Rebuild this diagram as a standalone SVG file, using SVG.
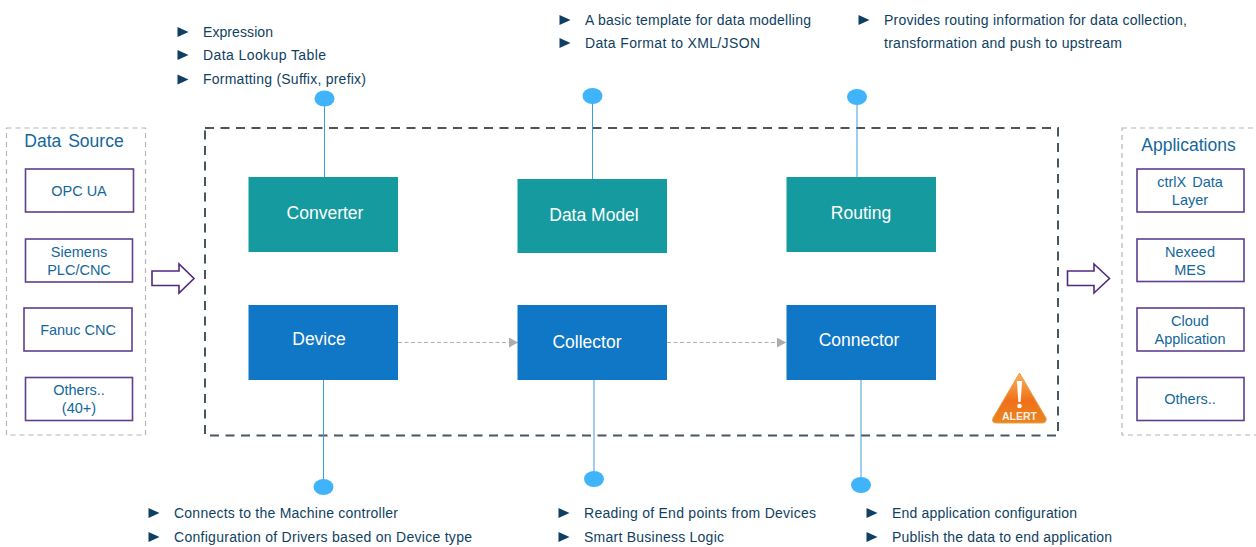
<svg xmlns="http://www.w3.org/2000/svg" width="1256" height="547" viewBox="0 0 1256 547">
<style>
text{font-family:"Liberation Sans",Arial,sans-serif}
.b{font-size:14px;fill:#0f3f62}
.bu{fill:#0f3f62}
.src{fill:#fff;stroke:#5f3f8f;stroke-width:1.6}
.st{font-size:14.500px;fill:#14679a;text-anchor:middle}
.hd{font-size:17.500px;fill:#14679a;text-anchor:middle;word-spacing:2px}
.grp{fill:none;stroke:#b5b5b5;stroke-width:1.2;stroke-dasharray:5 4}
.n{font-size:17.500px;fill:#fff;text-anchor:middle}
.teal{fill:#149a9f}.blue{fill:#1076c6}
.pin{stroke:#3e9fd8;stroke-width:1;fill:none}
.dot{fill:#40b4fb}
.flow{stroke:#b0b0b0;stroke-width:1;stroke-dasharray:4 2.500;fill:none;marker-end:url(#ah)}
.big{fill:#fff;stroke:#4f2a7f;stroke-width:1.600}
</style>
<defs>
<marker id="ah" markerUnits="userSpaceOnUse" markerWidth="9" markerHeight="10" refX="9" refY="5" orient="auto"><path d="M0 0L9 5L0 10Z" fill="#adadad"/></marker>
<path id="tri" d="M0 -5L11 0L0 5Z"/>
<linearGradient id="al" x1="0" y1="0" x2="0" y2="1"><stop offset="0" stop-color="#f7b35c"/><stop offset=".55" stop-color="#f0701a"/><stop offset="1" stop-color="#e8861f"/></linearGradient>
</defs>

<g id="main-boundary"><rect x="205" y="128" width="853" height="307.500" fill="none" stroke="#4a5563" stroke-width="2" stroke-dasharray="9 6.500"/></g>

<g id="connectors">
<path class="pin" d="M324.500 98V177M592.500 96V179M857 97V177M323.500 380V487M594 380V479M861 380V485"/>
<path class="flow" d="M398 342.500H518"/>
<path class="flow" d="M667 342.500H786"/>
</g>

<g id="converter"><rect class="teal" x="248.500" y="177" width="149.500" height="75"/><text class="n" x="325" y="219">Converter</text></g>
<g id="data-model"><rect class="teal" x="517.500" y="179" width="149.500" height="74"/><text class="n" x="594" y="221">Data Model</text></g>
<g id="routing"><rect class="teal" x="786.500" y="177" width="149.500" height="75"/><text class="n" x="861" y="219">Routing</text></g>
<g id="device"><rect class="blue" x="248.500" y="305" width="149.500" height="75"/><text class="n" x="319" y="345">Device</text></g>
<g id="collector"><rect class="blue" x="517.500" y="305" width="149.500" height="75"/><text class="n" x="587" y="348">Collector</text></g>
<g id="connector"><rect class="blue" x="786.500" y="305" width="149.500" height="75"/><text class="n" x="859" y="346">Connector</text></g>

<g id="dots">
<ellipse class="dot" cx="324.500" cy="98.500" rx="10" ry="8"/>
<ellipse class="dot" cx="592.500" cy="96" rx="10" ry="8"/>
<ellipse class="dot" cx="857" cy="97" rx="10" ry="8"/>
<ellipse class="dot" cx="323.500" cy="487" rx="10" ry="8"/>
<ellipse class="dot" cx="594" cy="479" rx="10" ry="8"/>
<ellipse class="dot" cx="861" cy="485" rx="10" ry="8"/>
</g>

<g id="notes-converter">
<use href="#tri" class="bu" x="177.500" y="32"/><text class="b" x="203" y="37" textLength="70">Expression</text>
<use href="#tri" class="bu" x="177.500" y="55"/><text class="b" x="203" y="60" textLength="123">Data Lookup Table</text>
<use href="#tri" class="bu" x="177.500" y="79.500"/><text class="b" x="203" y="84" textLength="163">Formatting (Suffix, prefix)</text>
</g>
<g id="notes-model">
<use href="#tri" class="bu" x="559.500" y="20"/><text class="b" x="585" y="25" textLength="226">A basic template for data modelling</text>
<use href="#tri" class="bu" x="559.500" y="43"/><text class="b" x="585" y="48" textLength="175">Data Format to XML/JSON</text>
</g>
<g id="notes-routing">
<use href="#tri" class="bu" x="858.500" y="20"/><text class="b" x="884" y="25" textLength="303">Provides routing information for data collection,</text>
<text class="b" x="884" y="48" textLength="238">transformation and push to upstream</text>
</g>
<g id="notes-device">
<use href="#tri" class="bu" x="148.500" y="513"/><text class="b" x="174" y="518" textLength="224">Connects to the Machine controller</text>
<use href="#tri" class="bu" x="148.500" y="537"/><text class="b" x="174" y="542" textLength="298">Configuration of Drivers based on Device type</text>
</g>
<g id="notes-collector">
<use href="#tri" class="bu" x="558.500" y="513"/><text class="b" x="584" y="518" textLength="232">Reading of End points from Devices</text>
<use href="#tri" class="bu" x="558.500" y="537"/><text class="b" x="584" y="542" textLength="140">Smart Business Logic</text>
</g>
<g id="notes-connector">
<use href="#tri" class="bu" x="866.500" y="513"/><text class="b" x="892" y="518" textLength="185">End application configuration</text>
<use href="#tri" class="bu" x="866.500" y="537"/><text class="b" x="892" y="542" textLength="220">Publish the data to end application</text>
</g>

<g id="data-source">
<rect class="grp" x="6.500" y="128" width="139" height="307"/>
<text class="hd" x="74" y="147">Data Source</text>
</g>
<g id="src-opc"><rect class="src" x="25.500" y="169" width="108" height="43"/><text class="st" x="79" y="196">OPC UA</text></g>
<g id="src-siemens"><rect class="src" x="25.500" y="239" width="107" height="43"/><text class="st" x="79" y="257">Siemens</text><text class="st" x="79" y="275">PLC/CNC</text></g>
<g id="src-fanuc"><rect class="src" x="24" y="308" width="108" height="43"/><text class="st" x="78" y="335">Fanuc CNC</text></g>
<g id="src-others"><rect class="src" x="25.500" y="377.500" width="107" height="43"/><text class="st" x="79" y="395">Others..</text><text class="st" x="79" y="413">(40+)</text></g>

<g id="arrow-in"><path class="big" d="M152 271H179V264L194 278.500L179 293V285.500H152Z"/></g>
<g id="arrow-out"><path class="big" d="M1067.500 271H1094V264L1109.500 278.500L1094 293V285.500H1067.500Z"/></g>

<g id="applications">
<rect class="grp" x="1122" y="128" width="140" height="307"/>
<text class="hd" x="1188.500" y="151">Applications</text>
</g>
<g id="app-ctrlx"><rect class="src" x="1137" y="169" width="107" height="43"/><text class="st" x="1190" y="187" word-spacing="2">ctrlX Data</text><text class="st" x="1190" y="205">Layer</text></g>
<g id="app-nexeed"><rect class="src" x="1137" y="239" width="107" height="42.500"/><text class="st" x="1190" y="257">Nexeed</text><text class="st" x="1190" y="275">MES</text></g>
<g id="app-cloud"><rect class="src" x="1137" y="308" width="107" height="43"/><text class="st" x="1190" y="326">Cloud</text><text class="st" x="1190" y="344">Application</text></g>
<g id="app-others"><rect class="src" x="1137" y="377.500" width="107" height="43"/><text class="st" x="1190" y="404">Others..</text></g>

<g id="alert">
<path d="M1019.500 373L1046 418Q1047 423 1042 423H997Q991 423 993 418Z" fill="url(#al)" stroke="#e9a04a" stroke-width="1"/>
<path d="M1016.800 381H1022.200L1020.600 402H1018.400Z" fill="#fff"/>
<circle cx="1019.500" cy="406" r="2.300" fill="#fff"/>
<text x="1019.500" y="419.500" font-size="10.500" font-weight="bold" fill="#fff" fill-opacity=".9" text-anchor="middle">ALERT</text>
</g>
</svg>
